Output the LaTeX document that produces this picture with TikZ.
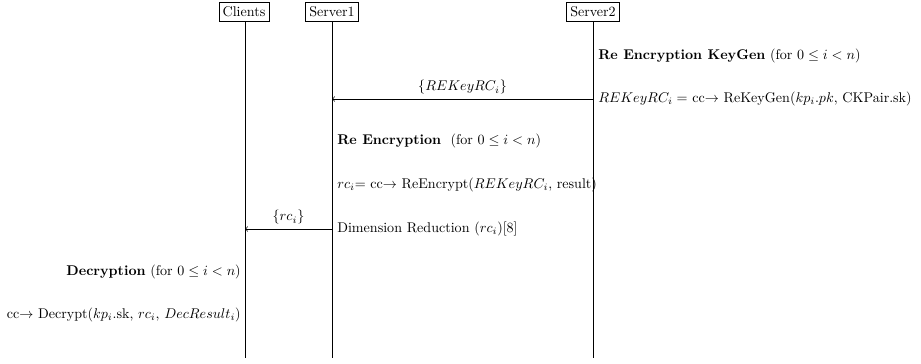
\documentclass[tikz,border=0pt]{standalone}
\usepackage{amsmath,amssymb}
\begin{document}
\begin{tikzpicture}[x=0.71pt,y=-0.71pt,
  actor/.style={draw,fill=white,inner xsep=2.5pt,inner ysep=3pt},
  life/.style={line width=0.6pt},
  msg/.style={->,line width=0.5pt},
  txt/.style={inner sep=0pt}]
\useasboundingbox (0,0) rectangle (921,363);
% actors
\node[actor] (c) at (244,12) {Clients};
\node[actor] (s1) at (332,12) {Server1};
\node[actor] (s2) at (593,12) {Server2};
\coordinate (cend) at (245,358);
\coordinate (s1end) at (332,358);
\coordinate (s2end) at (593,358);
\draw[life] (c.south -| cend) -- (cend);
\draw[life] (s1.south) -- (s1end);
\draw[life] (s2.south) -- (s2end);
% message points
\coordinate (s2a) at (593,99);
\coordinate (s1a) at (332,99);
\coordinate (s1b) at (332,229);
\coordinate (cb) at (245,229);
\draw[msg] (s2a) -- node[above=3pt,txt] (m1) {$\{REKeyRC_i\}$} (s1a);
\draw[msg] (s1b) -- node[above=3pt,txt] (m2) {$\{rc_i\}$} (cb);
% texts
\node[txt,anchor=west] (t1) at (598,56) {\textbf{Re Encryption KeyGen} (for $0 \le i < n$)};
\node[txt,anchor=west] (t2) at (598,99) {$REKeyRC_i =$ cc$\rightarrow$ ReKeyGen($kp_i.pk$, CKPair.sk)};
\node[txt,anchor=west] (t3) at (337,141) {\textbf{Re Encryption}\ \ (for $0 \le i < n$)};
\node[txt,anchor=west] (t4) at (337,185) {$rc_i$= cc$\rightarrow$ ReEncrypt($REKeyRC_i$, result)};
\node[txt,anchor=west] (t5) at (337,229) {Dimension Reduction ($rc_i$)[8]};
\node[txt,anchor=east] (t6) at (241,272) {\textbf{Decryption} (for $0 \le i < n$)};
\node[txt,anchor=east] (t7) at (241,315) {cc$\rightarrow$ Decrypt($kp_i$.sk, $rc_i$, $DecResult_i$)};
\end{tikzpicture}
\end{document}
